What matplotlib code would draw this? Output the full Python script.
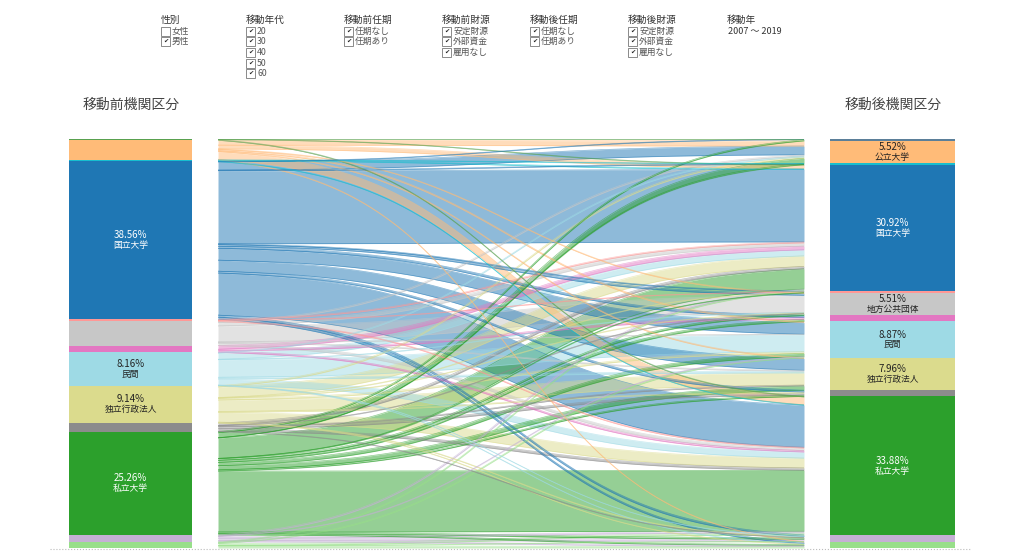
import numpy as np
import matplotlib.pyplot as plt
from matplotlib.patches import Rectangle
from matplotlib.lines import Line2D

plt.rcParams['font.family'] = ['Noto Sans CJK JP', 'DejaVu Sans']

# 機関区分 (上から順)
categories = ['海外', '不明', '公立大学', '大学共同利用機関', '国立大学', '国立研究開発法人',
              '地方公共団体', '高等専門学校', '民間', '独立行政法人', '国', '私立大学',
              '公益法人', 'その他']
colors = ['#59a14f', '#5b7f99', '#ffbb78', '#17becf', '#1f77b4', '#ff9896',
          '#c7c7c7', '#e377c2', '#9edae5', '#dbdb8d', '#8c8c8c', '#2ca02c',
          '#c5b0d5', '#98df8a']

before_pct = [0.30, 0.00, 4.80, 0.40, 38.56, 0.55, 5.90, 1.65, 8.16, 9.14, 2.08, 25.26, 1.70, 1.50]
after_pct = [0.00, 0.45, 5.52, 0.30, 30.92, 0.45, 5.51, 1.45, 8.87, 7.96, 1.50, 33.88, 1.65, 1.54]
before_show = [False, False, False, False, True, False, False, False, True, True, False, True, False, False]
after_show = [False, False, True, False, True, False, True, False, True, True, False, True, False, False]

# 移動前 (行) -> 移動後 (列) の割合 (%)
flows = [
    [0, 0.05, 0, 0, 0.10, 0, 0, 0, 0, 0, 0, 0.15, 0, 0],
    [0, 0, 0, 0, 0, 0, 0, 0, 0, 0, 0, 0, 0, 0],
    [0, 0, 1.20, 0, 0.90, 0, 0.15, 0, 0.30, 0.20, 0, 1.90, 0, 0.15],
    [0, 0, 0, 0.10, 0.20, 0, 0, 0, 0, 0, 0, 0.10, 0, 0],
    [0, 0.10, 2.00, 0.15, 17.87, 0.20, 0.40, 0.50, 2.90, 2.70, 0.45, 10.29, 0.50, 0.50],
    [0, 0, 0, 0, 0.25, 0.10, 0, 0, 0, 0, 0, 0.20, 0, 0],
    [0, 0, 0.30, 0, 0.80, 0, 3.90, 0, 0.10, 0.20, 0, 0.60, 0, 0],
    [0, 0, 0, 0, 0.90, 0, 0, 0.40, 0, 0, 0, 0.35, 0, 0],
    [0, 0, 0.20, 0, 1.50, 0, 0.10, 0, 4.30, 0.40, 0, 1.50, 0.06, 0.10],
    [0, 0, 0.30, 0, 2.60, 0.10, 0.10, 0, 0.40, 2.80, 0.20, 2.40, 0.14, 0.10],
    [0, 0, 0, 0, 0.60, 0, 0.10, 0, 0, 0.20, 0.50, 0.58, 0.10, 0],
    [0, 0.30, 1.20, 0.05, 5.00, 0.10, 0.40, 0.50, 0.80, 1.00, 0.30, 14.90, 0.40, 0.31],
    [0, 0, 0, 0, 0.30, 0, 0, 0, 0.10, 0, 0, 0.40, 0.60, 0.30],
    [0, 0, 0, 0, 0.20, 0, 0, 0, 0.20, 0, 0, 0.50, 0.10, 0.50],
]

filter_titles = ['性別', '移動年代', '移動前任期', '移動前財源', '移動後任期', '移動後財源']
filter_items = [['女性', '男性'], ['20', '30', '40', '50', '60'], ['任期なし', '任期あり'],
                ['安定財源', '外部資金', '雇用なし'], ['任期なし', '任期あり'],
                ['安定財源', '外部資金', '雇用なし']]
filter_checked = [[False, True], [True] * 5, [True, True], [True] * 3, [True, True], [True] * 3]
filter_x = [161, 246, 344, 442, 530, 628]

W, H = 1024, 558
fig = plt.figure(figsize=(W / 100, H / 100), dpi=100)


def px_axes(x0, y0, x1, y1):
    ax = fig.add_axes([x0 / W, 1 - y1 / H, (x1 - x0) / W, (y1 - y0) / H])
    ax.set_axis_off()
    return ax


def ftext(x, y, s, **kw):
    fig.text(x / W, 1 - y / H, s, **kw)


# フィルター
for title, items, checked, x in zip(filter_titles, filter_items, filter_checked, filter_x):
    ftext(x, 20, title, fontsize=7, color='#333333', va='center', ha='left')
    for k, (item, chk) in enumerate(zip(items, checked)):
        yc = 31 + k * 10.7
        fig.add_artist(Rectangle((x / W, 1 - (yc + 4.5) / H), 9 / W, 9 / H,
                                 transform=fig.transFigure, fill=False,
                                 ec='#777777', lw=0.6))
        if chk:
            ftext(x + 4.5, yc, '✔', fontsize=4.5, color='#222222', ha='center', va='center',
                  family=['DejaVu Sans'])
        ftext(x + 11, yc, item, fontsize=6.3, color='#555555', va='center', ha='left')
ftext(727, 20, '移動年', fontsize=7, color='#333333', va='center')
ftext(728, 31, '2007 ～ 2019', fontsize=6.5, color='#333333', va='center')

# 見出し
ftext(131, 105, '移動前機関区分', fontsize=10, color='#444444', ha='center', va='center')
ftext(893, 105, '移動後機関区分', fontsize=10, color='#444444', ha='center', va='center')

dark_bg = {'#1f77b4', '#2ca02c'}


def draw_bar(ax, pct, show):
    ax.set_xlim(-0.5, 0.5)
    ax.set_ylim(100, 0)
    bottoms = np.concatenate([[0], np.cumsum(pct)[:-1]])
    ax.bar(0, pct, bottom=bottoms, width=1, color=colors, linewidth=0)
    for p, b, c, s, name in zip(pct, bottoms, colors, show, categories):
        if not s:
            continue
        tc = 'white' if c in dark_bg else '#222222'
        mid = b + p / 2
        ax.text(0, mid - 1.2, f'{p:.2f}%', ha='center', va='center', fontsize=7, color=tc)
        ax.text(0, mid + 1.3, name, ha='center', va='center', fontsize=6.3, color=tc)


ax_l = px_axes(69, 139, 192, 548)
draw_bar(ax_l, np.array(before_pct), before_show)
ax_r = px_axes(830, 139, 955, 548)
draw_bar(ax_r, np.array(after_pct), after_show)

# 中央のサンキー
ax_m = px_axes(218, 139, 804, 548)
ax_m.set_xlim(0, 1)
ax_m.set_ylim(100, 0)

M = np.array(flows)
bp = np.array(before_pct)
ap = np.array(after_pct)
rows = M.sum(axis=1)
cols = M.sum(axis=0)
lw = M * np.divide(bp, rows, out=np.zeros_like(bp), where=rows > 0)[:, None]
rw = M * np.divide(ap, cols, out=np.zeros_like(ap), where=cols > 0)[None, :]

n = len(categories)
left_top = np.zeros_like(M)
pos = 0.0
for i in range(n):
    for j in range(n):
        left_top[i, j] = pos
        pos += lw[i, j]
right_top = np.zeros_like(M)
pos = 0.0
for j in range(n):
    for i in range(n):
        right_top[i, j] = pos
        pos += rw[i, j]

x = np.linspace(0, 1, 200)
s = 1 / (1 + np.exp(-7.5 * (x - 0.5)))
s = (s - s[0]) / (s[-1] - s[0])

order = sorted([(i, j) for i in range(n) for j in range(n) if M[i, j] > 0],
               key=lambda ij: -M[ij])
for i, j in order:
    top = left_top[i, j] + (right_top[i, j] - left_top[i, j]) * s
    bot = (left_top[i, j] + lw[i, j]) + (right_top[i, j] + rw[i, j] - left_top[i, j] - lw[i, j]) * s
    ax_m.fill_between(x, top, bot, color=colors[i], alpha=0.5, linewidth=0)
    ax_m.plot(x, top, color=colors[i], alpha=0.55, lw=0.5)
    ax_m.plot(x, bot, color=colors[i], alpha=0.55, lw=0.5)

# 下の点線
fig.add_artist(Line2D([50 / W, 970 / W], [1 - 549 / H, 1 - 549 / H], transform=fig.transFigure,
                      color='#bbbbbb', lw=0.8, linestyle=':'))

fig.savefig('out.png', dpi=100, facecolor='white')
